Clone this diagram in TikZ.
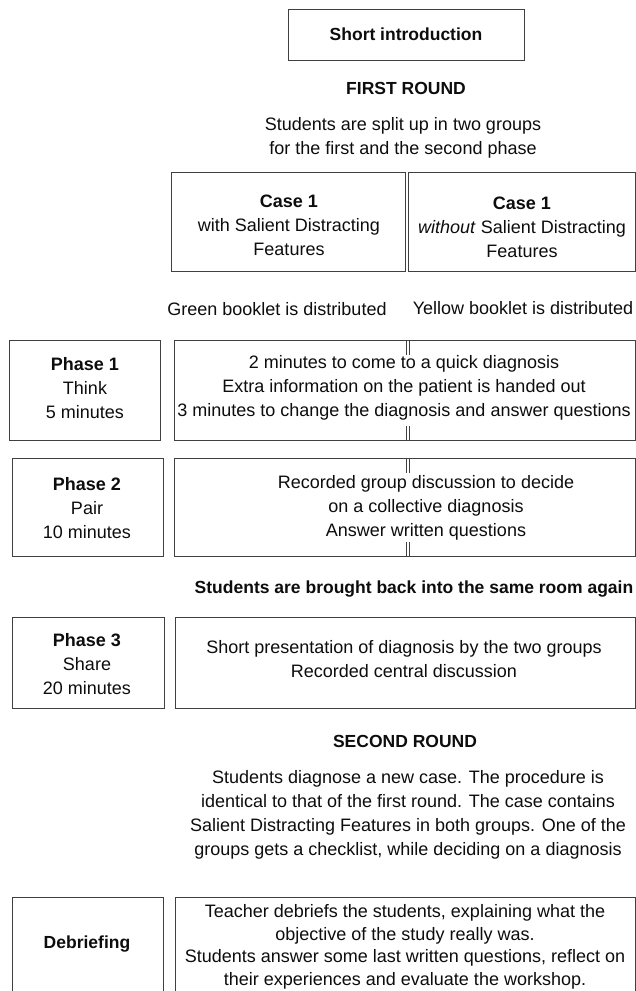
\documentclass[tikz,border=0pt]{standalone}
\usepackage{fontspec}
\setmainfont{Liberation Sans}
\begin{document}
\begin{tikzpicture}[x=1pt,y=-1pt,
  frame/.style={draw=black!75, line width=1pt, inner sep=0pt},
  txt/.style={align=center, inner sep=0pt, text=black!95, font=\fontsize{18}{24}\selectfont},
  btxt/.style={txt, font=\fontsize{17.5}{24}\selectfont\bfseries},
  tick/.style={draw=black!75, line width=1pt}]
\clip (0,0) rectangle (636,991);
\fill[white] (0,0) rectangle (636,991);
% boxes
\node[frame, minimum width=236, minimum height=51] (intro) at (406,34.5) {};
\node[frame, minimum width=234, minimum height=99] (caseA) at (288,221.5) {};
\node[frame, minimum width=227, minimum height=99] (caseB) at (521.5,221.5) {};
\node[frame, minimum width=151, minimum height=100] (p1) at (84.5,390) {};
\node[frame, minimum width=461, minimum height=100] (p1m) at (404.5,390) {};
\node[frame, minimum width=151, minimum height=98] (p2) at (87.5,507) {};
\node[frame, minimum width=461, minimum height=98] (p2m) at (404.5,507) {};
\node[frame, minimum width=152, minimum height=91] (p3) at (88,662.5) {};
\node[frame, minimum width=460, minimum height=91] (p3m) at (405,662.5) {};
\node[frame, minimum width=151, minimum height=100] (deb) at (87.5,947) {};
\node[frame, minimum width=460, minimum height=100] (debm) at (405,947) {};
% double ticks
\foreach \b in {p1m,p2m}{
  \draw[tick] ([xshift=1.5pt]\b.north) -- ++(0,15);
  \draw[tick] ([xshift=4.5pt]\b.north) -- ++(0,15);
  \draw[tick] ([xshift=1.5pt]\b.south) -- ++(0,-15);
  \draw[tick] ([xshift=4.5pt]\b.south) -- ++(0,-15);
}
% texts
\node[btxt] (introT) at (intro.center) {Short introduction};
\node[btxt] (r1) at (406,88) {FIRST ROUND};
\node[txt] (split) at (403,138) {Students are split up in two groups\\for the first and the second phase};
\node[txt] (caseAT) at (289,225) {\textbf{Case 1}\\with Salient Distracting\\Features};
\node[txt] (caseBT) at (522,227) {\textbf{Case 1}\\\textit{without} Salient Distracting\\Features};
\node[txt] (green) at (277,309) {Green booklet is distributed};
\node[txt] (yellow) at (523,308) {Yellow booklet is distributed};
\node[txt] (p1T) at (85,388) {\textbf{Phase 1}\\Think\\5 minutes};
\node[txt] (p1mT) at (404,388) {2 minutes to come to a quick diagnosis\\Extra information on the patient is handed out\\3 minutes to change the diagnosis and answer questions};
\node[txt] (p2T) at (87,508) {\textbf{Phase 2}\\Pair\\10 minutes};
\node[txt] (p2mT) at (426,508) {Recorded group discussion to decide\\on a collective diagnosis\\Answer written questions};
\node[btxt] (back) at (414,589) {Students are brought back into the same room again};
\node[txt] (p3T) at (87,664) {\textbf{Phase 3}\\Share\\20 minutes};
\node[txt] (p3mT) at (404,659) {Short presentation of diagnosis by the two groups\\Recorded central discussion};
\node[btxt] (r2) at (405,741) {SECOND ROUND};
\node[txt] (para) at (408,815) {Students diagnose a new case. The procedure is\\identical to that of the first round. The case contains\\Salient Distracting Features in both groups. One of the\\groups gets a checklist, while deciding on a diagnosis};
\node[btxt] (debT) at (87,944) {Debriefing};
\node[txt, font=\fontsize{18}{22.5}\selectfont] (debmT) at (405,947) {Teacher debriefs the students, explaining what the\\objective of the study really was.\\Students answer some last written questions, reflect on\\their experiences and evaluate the workshop.};
\end{tikzpicture}
\end{document}
